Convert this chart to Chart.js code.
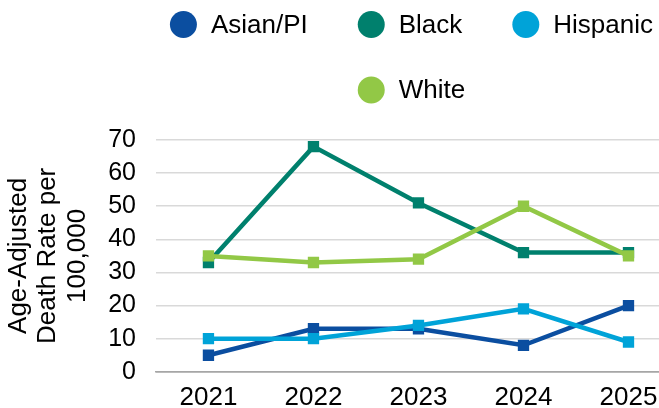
<!DOCTYPE html>
<html>
<head>
<meta charset="utf-8">
<title>Age-Adjusted Death Rate</title>
<script src="https://cdn.jsdelivr.net/npm/chart.js@4.4.1/dist/chart.umd.min.js"></script>
<style>
  html, body { margin: 0; padding: 0; background: #fff; overflow: hidden; }
  #wrap { width: 700px; height: 423px; }
</style>
</head>
<body>
<div id="wrap"><canvas id="rateChart"></canvas></div>
<script>
const years = ['2021', '2022', '2023', '2024', '2025'];
const seriesNames = ['Asian/PI', 'Black', 'Hispanic', 'White'];
const seriesColors = ['#0B4EA0', '#00806D', '#00A3D8', '#92C846'];

const asianPI  = [5, 13, 13, 8, 20];
const black    = [33, 68, 51, 36, 36];
const hispanic = [10, 10, 14, 19, 9];
const white    = [35, 33, 34, 50, 35];

const yTitle = ['Age-Adjusted', 'Death Rate per', '100,000'];
const FONT = '"Liberation Sans", Arial, sans-serif';

// legend drawn in two centred rows above the plot
const legendRows = {
  id: 'legendRows',
  afterDraw(chart) {
    const ctx = chart.ctx;
    const area = chart.chartArea;
    const cx = (area.left + area.right) / 2 - 7;
    const rows = [[0, 1, 2], [3]];
    const rowY = [24.5, 90];
    const r = 13.5, gap = 14, spacing = 50;
    ctx.save();
    ctx.font = '26px ' + FONT;
    ctx.textBaseline = 'middle';
    ctx.textAlign = 'left';
    rows.forEach((row, ri) => {
      const widths = row.map(i => 2 * r + gap + ctx.measureText(seriesNames[i]).width);
      const total = widths.reduce((a, b) => a + b, 0) + spacing * (row.length - 1);
      let x = cx - total / 2;
      row.forEach((i, k) => {
        ctx.fillStyle = seriesColors[i];
        ctx.beginPath();
        ctx.arc(x + r, rowY[ri], r, 0, Math.PI * 2);
        ctx.fill();
        ctx.fillStyle = '#000';
        ctx.fillText(seriesNames[i], x + 2 * r + gap, rowY[ri] + 1);
        x += widths[k] + spacing;
      });
    });
    ctx.restore();
  }
};

function makeSeries(idx, values, order) {
  return {
    label: seriesNames[idx],
    data: values,
    borderColor: seriesColors[idx],
    backgroundColor: seriesColors[idx],
    borderWidth: 4.5,
    tension: 0,
    pointStyle: 'rect',
    pointRadius: 8,
    pointHoverRadius: 8,
    pointBorderWidth: 0,
    order: order
  };
}

new Chart(document.getElementById('rateChart'), {
  type: 'line',
  data: {
    labels: years,
    datasets: [
      makeSeries(0, asianPI, 4),
      makeSeries(1, black, 3),
      makeSeries(2, hispanic, 2),
      makeSeries(3, white, 1)
    ]
  },
  options: {
    responsive: true,
    maintainAspectRatio: false,
    animation: false,
    layout: { padding: { top: 140, right: 19, left: 2, bottom: 0 } },
    plugins: {
      legend: { display: false },
      tooltip: { enabled: false }
    },
    scales: {
      x: {
        offset: true,
        grid: { display: false, drawTicks: false },
        border: { display: true, color: '#A6A6A6', width: 1.5 },
        ticks: { color: '#000', padding: 10, font: { family: FONT, size: 26 } }
      },
      y: {
        min: 0,
        max: 70,
        grid: {
          drawTicks: false,
          lineWidth: 1.5,
          color: ctx => ctx.tick.value === 0 ? '#A6A6A6' : '#D9D9D9'
        },
        border: { display: false },
        ticks: {
          stepSize: 10,
          autoSkip: false,
          color: '#000',
          padding: 20,
          font: { family: FONT, size: 25 }
        },
        title: {
          display: true,
          text: yTitle,
          color: '#000',
          padding: { top: 2, bottom: -4 },
          font: { family: FONT, size: 26, lineHeight: 1.13 }
        }
      }
    }
  },
  plugins: [legendRows]
});
</script>
</body>
</html>
